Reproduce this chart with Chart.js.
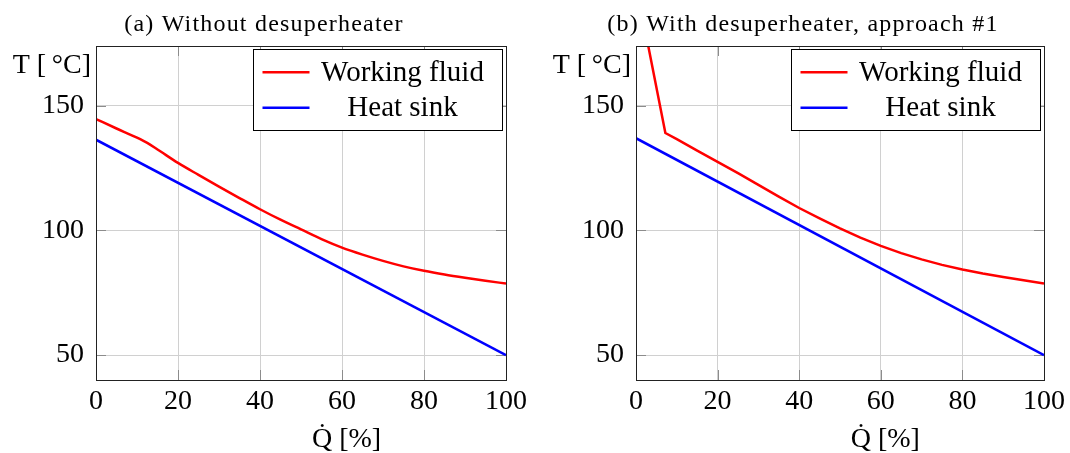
<!DOCTYPE html>
<html>
<head>
<meta charset="utf-8">
<script src="https://cdn.jsdelivr.net/npm/chart.js@4.4.1/dist/chart.umd.min.js"></script>
<style>
  html, body { margin: 0; padding: 0; background: #fff; }
  #wrap { position: relative; width: 1070px; height: 453px; }
  canvas { position: absolute; top: 0; }
  #chartA { left: 0; }
  #chartB { left: 535px; }
</style>
</head>
<body>
<div id="wrap">
  <canvas id="chartA" width="535" height="453"></canvas>
  <canvas id="chartB" width="535" height="453"></canvas>
</div>
<script>
// Q [%] against temperature [°C], panel (a): no desuperheater
const qFluidA = [0, 5, 10, 12.5, 15, 20, 25, 30, 35, 40, 45, 50, 55, 60, 65, 70, 75, 80, 85, 90, 95, 100];
const tFluidA = [144.7, 140.9, 137.2, 135.1, 132.5, 127.1, 122.3, 117.6, 113.0, 108.5, 104.3, 100.4, 96.5, 93.1, 90.3, 87.8, 85.6, 83.8, 82.3, 81.0, 79.8, 78.7];
const qSinkA = [0, 100];
const tSinkA = [136.4, 50];

// panel (b): desuperheater, approach #1
const qFluidB = [0, 7.2, 10, 15, 20, 25, 30, 35, 40, 45, 50, 55, 60, 65, 70, 75, 80, 85, 90, 95, 100];
const tFluidB = [199, 139.1, 136.6, 132.0, 127.5, 123.0, 118.3, 113.6, 109.0, 104.8, 100.8, 97.1, 93.8, 90.9, 88.4, 86.2, 84.3, 82.7, 81.3, 80.0, 78.7];
const qSinkB = [0, 100];
const tSinkB = [137, 50];

const xTicks = [0, 20, 40, 60, 80, 100];
const yTicks = [50, 100, 150];
const seriesNames = ['Working fluid', 'Heat sink'];
const seriesColors = ['#ff0000', '#0000ff'];

const serif = '"Liberation Serif", "Times New Roman", serif';
const TICK = 10;

function points(xs, ys) {
  return xs.map((x, i) => ({ x: x, y: ys[i] }));
}

// pgfplots-like box: inner tick marks, frame, boxed legend, axis labels, title
const pgfBox = {
  id: 'pgfBox',
  beforeDatasetsDraw(chart) {
    const { ctx, chartArea: a, scales: { x, y } } = chart;
    ctx.save();
    ctx.strokeStyle = '#8c8c8c';
    ctx.lineWidth = 1;
    ctx.beginPath();
    xTicks.forEach(v => {
      const px = Math.round(x.getPixelForValue(v)) + 0.5;
      ctx.moveTo(px, a.top); ctx.lineTo(px, a.top + TICK);
      ctx.moveTo(px, a.bottom); ctx.lineTo(px, a.bottom - TICK);
    });
    yTicks.forEach(v => {
      const py = Math.round(y.getPixelForValue(v)) + 0.5;
      ctx.moveTo(a.left, py); ctx.lineTo(a.left + TICK, py);
      ctx.moveTo(a.right, py); ctx.lineTo(a.right - TICK, py);
    });
    ctx.stroke();
    ctx.restore();
  },
  afterDatasetsDraw(chart, args, opts) {
    const { ctx, chartArea: a } = chart;
    ctx.save();

    // frame
    ctx.strokeStyle = '#222';
    ctx.lineWidth = 1;
    ctx.strokeRect(Math.round(a.left) + 0.5, Math.round(a.top) + 0.5,
      Math.round(a.right - a.left), Math.round(a.bottom - a.top));

    // legend
    const lw = 249, lh = 81;
    const lx = Math.round(a.right - 4 - lw) + 0.5, ly = Math.round(a.top + 3) + 0.5;
    ctx.fillStyle = '#fff';
    ctx.fillRect(lx, ly, lw, lh);
    ctx.strokeStyle = '#000';
    ctx.strokeRect(lx, ly, lw, lh);
    ctx.font = '29px ' + serif;
    ctx.textAlign = 'center';
    ctx.textBaseline = 'alphabetic';
    chart.data.datasets.forEach((ds, i) => {
      const rowY = ly + 22.7 + i * 35.6;
      ctx.strokeStyle = ds.borderColor;
      ctx.lineWidth = 2.5;
      ctx.beginPath();
      ctx.moveTo(lx + 9, rowY);
      ctx.lineTo(lx + 56, rowY);
      ctx.stroke();
      ctx.fillStyle = '#000';
      ctx.fillText(ds.label, lx + 149, rowY + 8.5);
    });

    // axis labels
    ctx.fillStyle = '#000';
    ctx.font = '28px ' + serif;
    ctx.textAlign = 'right';
    ctx.fillText('T [\u2009°C]', a.left - 5, 73);
    ctx.textAlign = 'center';
    ctx.fillText('Q\u0307 [%]', a.left + 0.611 * (a.right - a.left), 447);

    // panel title
    ctx.font = '24px ' + serif;
    if ('letterSpacing' in ctx) ctx.letterSpacing = '1.2px';
    ctx.fillText(opts.title, (a.left + a.right) / 2 - 37, 31);
    ctx.restore();
  }
};

function makeChart(id, title, qFluid, tFluid, qSink, tSink, smooth, yWidth, padRight) {
  return new Chart(document.getElementById(id), {
    type: 'line',
    data: {
      datasets: [
        {
          label: seriesNames[0],
          data: points(qFluid, tFluid),
          borderColor: seriesColors[0],
          cubicInterpolationMode: smooth ? 'monotone' : 'default'
        },
        { label: seriesNames[1], data: points(qSink, tSink), borderColor: seriesColors[1] }
      ]
    },
    options: {
      responsive: false,
      animation: false,
      events: [],
      layout: { padding: { top: 46, right: padRight, bottom: 0, left: 0 } },
      elements: {
        line: { borderWidth: 2.5, tension: 0, fill: false },
        point: { radius: 0 }
      },
      scales: {
        x: {
          type: 'linear',
          min: 0,
          max: 100,
          afterFit: s => { s.height = 73; },
          afterBuildTicks: s => { s.ticks = xTicks.map(v => ({ value: v })); },
          grid: { color: '#d0d0d0', drawTicks: false },
          border: { display: false },
          ticks: { padding: 5, color: '#000', font: { family: serif, size: 28 } }
        },
        y: {
          type: 'linear',
          min: 40,
          max: 174,
          afterFit: s => { s.width = yWidth; },
          afterBuildTicks: s => { s.ticks = yTicks.map(v => ({ value: v })); },
          grid: { color: '#d0d0d0', drawTicks: false },
          border: { display: false },
          ticks: { padding: 12, color: '#000', font: { family: serif, size: 28 } }
        }
      },
      plugins: {
        legend: { display: false },
        tooltip: { enabled: false },
        pgfBox: { title: title }
      }
    },
    plugins: [pgfBox]
  });
}

makeChart('chartA', '(a) Without desuperheater', qFluidA, tFluidA, qSinkA, tSinkA, true, 96, 29);
makeChart('chartB', '(b) With desuperheater, approach #1', qFluidB, tFluidB, qSinkB, tSinkB, false, 101, 24);
</script>
</body>
</html>
